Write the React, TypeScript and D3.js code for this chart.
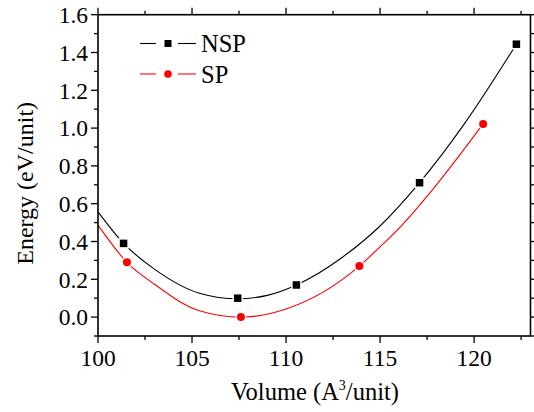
import React from "react";
import * as d3 from "d3";

// Data points
const nspVolume = [101.36, 107.43, 110.55, 117.1, 122.25];
const nspEnergy = [0.39, 0.1, 0.17, 0.711, 1.444];
const spVolume = [101.54, 107.6, 113.9, 120.48];
const spEnergy = [0.29, 0.0, 0.27, 1.022];

// Fitted curves
const nspFitVolume = [100, 101.36, 103, 105.35, 107.45, 109, 110.55, 113, 115, 117.1, 119.5, 122.25];
const nspFitEnergy = [0.557, 0.39, 0.254, 0.128, 0.097, 0.115, 0.17, 0.317, 0.482, 0.711, 1.025, 1.444];
const spFitVolume = [100, 101.54, 103, 105.35, 107.6, 110, 113.9, 115, 116.08, 118, 120.48];
const spFitEnergy = [0.487, 0.29, 0.174, 0.035, 0.0, 0.043, 0.27, 0.372, 0.478, 0.7, 1.022];

const xTicks = [100, 105, 110, 115, 120];
const yTicks = [0.0, 0.2, 0.4, 0.6, 0.8, 1.0, 1.2, 1.4, 1.6];
const seriesNames = ["NSP", "SP"];

const W = 534;
const H = 412;
const L = 98;
const R = 530.5;
const T = 14.7;
const B = 336;
const FONT = "Liberation Serif";

export default function App() {
  const x = d3.scaleLinear().domain([100, 123]).range([L, R]);
  const y = d3.scaleLinear().domain([-0.1, 1.6]).range([B, T]);
  const line = d3
    .line<[number, number]>()
    .x((d) => x(d[0]))
    .y((d) => y(d[1]))
    .curve(d3.curveMonotoneX);

  const nspFit = nspFitVolume.map((v, i) => [v, nspFitEnergy[i]] as [number, number]);
  const spFit = spFitVolume.map((v, i) => [v, spFitEnergy[i]] as [number, number]);

  const xMinor = d3.range(100, 123.01, 2.5);
  const yMinor = d3.range(-0.1, 1.601, 0.1);
  const maj = 7;
  const mnr = 4;
  const sq = 7.5;

  return (
    <svg
      width={W}
      height={H}
      style={{ position: "absolute", left: 0, top: 0, background: "#fff", fontFamily: FONT }}
    >
      <rect x={0} y={0} width={W} height={H} fill="#fff" />
      {/* curves */}
      <path d={line(nspFit) || ""} fill="none" stroke="#000" strokeWidth={1.1} />
      <path d={line(spFit) || ""} fill="none" stroke="#ff0000" strokeWidth={1.1} />
      {/* markers */}
      {nspVolume.map((v, i) => (
        <rect
          key={"n" + i}
          x={x(v) - sq / 2}
          y={y(nspEnergy[i]) - sq / 2}
          width={sq}
          height={sq}
          fill="#000"
          stroke="#fff"
          strokeWidth={3}
          paintOrder="stroke"
        />
      ))}
      {spVolume.map((v, i) => (
        <circle
          key={"s" + i}
          cx={x(v)}
          cy={y(spEnergy[i])}
          r={4}
          fill="#ff0000"
          stroke="#fff"
          strokeWidth={3}
          paintOrder="stroke"
        />
      ))}
      {/* frame */}
      <rect x={L} y={T} width={R - L} height={B - T} fill="none" stroke="#000" strokeWidth={1.6} />
      {/* x ticks */}
      {xMinor.map((v, i) => {
        const isMaj = Math.abs((v - 100) % 5) < 1e-6;
        const len = isMaj ? maj : mnr;
        return (
          <g key={"xt" + i} stroke="#000" strokeWidth={1.3}>
            <line x1={x(v)} x2={x(v)} y1={B} y2={B + len} />
            <line x1={x(v)} x2={x(v)} y1={T} y2={T - len} />
          </g>
        );
      })}
      {/* y ticks */}
      {yMinor.map((v, i) => {
        const isMaj = Math.abs(Math.round(v * 10)) % 2 === 0;
        const len = isMaj ? maj : mnr;
        return (
          <g key={"yt" + i} stroke="#000" strokeWidth={1.3}>
            <line x1={L} x2={L - len} y1={y(v)} y2={y(v)} />
            <line x1={R} x2={R + len} y1={y(v)} y2={y(v)} />
          </g>
        );
      })}
      {xTicks.map((v) => (
        <text key={"xl" + v} x={x(v)} y={366} fontSize={23.5} textAnchor="middle" fill="#000">
          {v}
        </text>
      ))}
      {yTicks.map((v) => (
        <text
          key={"yl" + v}
          x={88}
          y={y(v)}
          dy="0.35em"
          fontSize={23.5}
          textAnchor="end"
          fill="#000"
        >
          {v.toFixed(1)}
        </text>
      ))}
      {/* axis titles */}
      <text x={315} y={400} fontSize={24.5} textAnchor="middle" fill="#000">
        Volume (A
        <tspan fontSize={14} dy={-10}>
          3
        </tspan>
        <tspan dy={10}>/unit)</tspan>
      </text>
      <text
        transform={`translate(33,${(T + B) / 2 + 8}) rotate(-90)`}
        fontSize={24}
        textAnchor="middle"
        fill="#000"
      >
        Energy (eV/unit)
      </text>
      {/* legend */}
      <g>
        <line x1={140} x2={156} y1={43.5} y2={43.5} stroke="#000" strokeWidth={1.1} />
        <line x1={178} x2={196} y1={43.5} y2={43.5} stroke="#000" strokeWidth={1.1} />
        <rect x={168 - 3.5} y={43.5 - 3.5} width={7} height={7} fill="#000" />
        <text x={201} y={43.5} dy="0.35em" fontSize={24.5} fill="#000">
          {seriesNames[0]}
        </text>
        <line x1={140} x2={156} y1={74} y2={74} stroke="#ff0000" strokeWidth={1.1} />
        <line x1={178} x2={196} y1={74} y2={74} stroke="#ff0000" strokeWidth={1.1} />
        <circle cx={168} cy={74} r={3.8} fill="#ff0000" />
        <text x={201} y={74} dy="0.35em" fontSize={24.5} fill="#000">
          {seriesNames[1]}
        </text>
      </g>
    </svg>
  );
}
